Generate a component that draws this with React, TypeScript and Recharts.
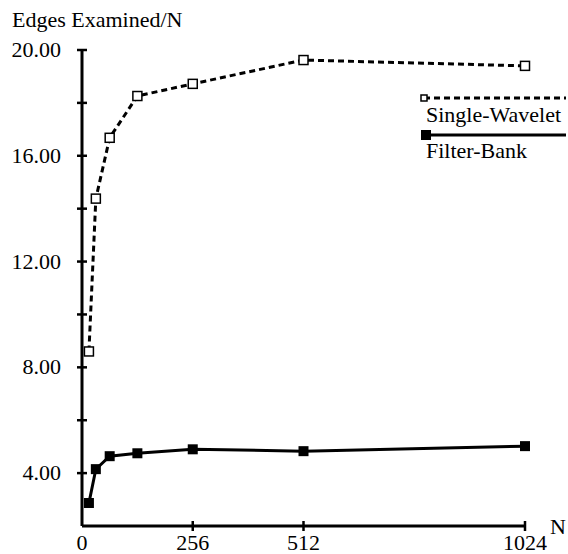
import React from "react"
import { LineChart, Line, XAxis, YAxis } from "recharts"

// problem sizes N
const sizes = [16, 32, 64, 128, 256, 512, 1024]
// edges examined / N
const singleWavelet = [8.6, 14.38, 16.68, 18.26, 18.72, 19.62, 19.4]
const filterBank = [2.87, 4.15, 4.64, 4.75, 4.9, 4.83, 5.02]

const xTicks = [0, 256, 512, 1024]
const yTicks = [4, 6, 8, 10, 12, 14, 16, 18, 20]

const txt = { fontFamily: "'Liberation Serif', serif", fontSize: 22 }

const chartData = sizes.map((n, i) => ({
  n,
  single: singleWavelet[i],
  filter: filterBank[i],
}))

function XTick(props: any) {
  const { x, y, payload } = props
  return (
    <g>
      {payload.value !== 0 && <line x1={x} x2={x} y1={y - 5} y2={y + 5} stroke="#000" strokeWidth={2.5} />}
      <text x={x} y={y + 24} textAnchor="middle" style={txt} fill="#000">
        {payload.value}
      </text>
    </g>
  )
}

function YTick(props: any) {
  const { x, y, payload } = props
  const labelled = payload.value % 4 === 0
  return (
    <g>
      <line x1={x - 5} x2={x + 5} y1={y} y2={y} stroke="#000" strokeWidth={2.5} />
      {labelled && (
        <text x={x - 21} y={y + 7} textAnchor="end" style={txt} fill="#000">
          {payload.value.toFixed(2)}
        </text>
      )}
    </g>
  )
}

const hollowSquare = (props: any) => {
  const { cx, cy, index } = props
  return <rect key={`s-${index}`} x={cx - 4.5} y={cy - 4.5} width={9} height={9} fill="#fff" stroke="#000" strokeWidth={1.5} />
}

const filledSquare = (props: any) => {
  const { cx, cy, index } = props
  return <rect key={`f-${index}`} x={cx - 5} y={cy - 5} width={10} height={10} fill="#000" />
}

function LegendBox() {
  return (
    <svg width={160} height={80} style={{ position: "absolute", left: 420, top: 94, overflow: "visible" }}>
      <line x1={4} x2={146} y1={4} y2={4} stroke="#000" strokeWidth={3} strokeDasharray="6 4" />
      <rect x={1} y={1} width={6} height={6} fill="#fff" stroke="#000" strokeWidth={1.5} />
      <text x={6} y={28} style={txt} fill="#000">Single-Wavelet</text>
      <line x1={6} x2={146} y1={41} y2={41} stroke="#000" strokeWidth={3} />
      <rect x={1} y={36} width={10} height={10} fill="#000" />
      <text x={6} y={64} style={txt} fill="#000">Filter-Bank</text>
    </svg>
  )
}

export default function App() {
  return (
    <div style={{ position: "absolute", left: 0, top: 0, width: 568, height: 554, background: "#fff" }}>
      <LineChart width={568} height={554} data={chartData} margin={{ top: 50, right: 43, bottom: 0, left: 0 }}>
        <XAxis
          dataKey="n"
          type="number"
          domain={[0, 1024]}
          ticks={xTicks}
          height={28}
          tickSize={0}
          tickMargin={0}
          tick={<XTick />}
          axisLine={{ stroke: "#000", strokeWidth: 3 }}
          tickLine={false}
          label={{
            content: (p: any) => (
              <text x={p.viewBox.x + p.viewBox.width + 25} y={p.viewBox.y + 8} style={txt} fill="#000">
                N
              </text>
            ),
          }}
        />
        <YAxis
          type="number"
          domain={[2, 20]}
          ticks={yTicks}
          width={82}
          tickSize={0}
          tickMargin={0}
          tick={<YTick />}
          axisLine={{ stroke: "#000", strokeWidth: 3 }}
          tickLine={false}
          label={{
            content: (p: any) => (
              <text x={12} y={p.viewBox.y - 23} style={txt} fill="#000">
                Edges Examined/N
              </text>
            ),
          }}
        />
        <Line
          dataKey="single"
          name="Single-Wavelet"
          stroke="#000"
          strokeWidth={3}
          strokeDasharray="6 4"
          dot={hollowSquare}
          activeDot={false}
          isAnimationActive={false}
        />
        <Line
          dataKey="filter"
          name="Filter-Bank"
          stroke="#000"
          strokeWidth={3}
          dot={filledSquare}
          activeDot={false}
          isAnimationActive={false}
        />
      </LineChart>
      <LegendBox />
    </div>
  )
}
